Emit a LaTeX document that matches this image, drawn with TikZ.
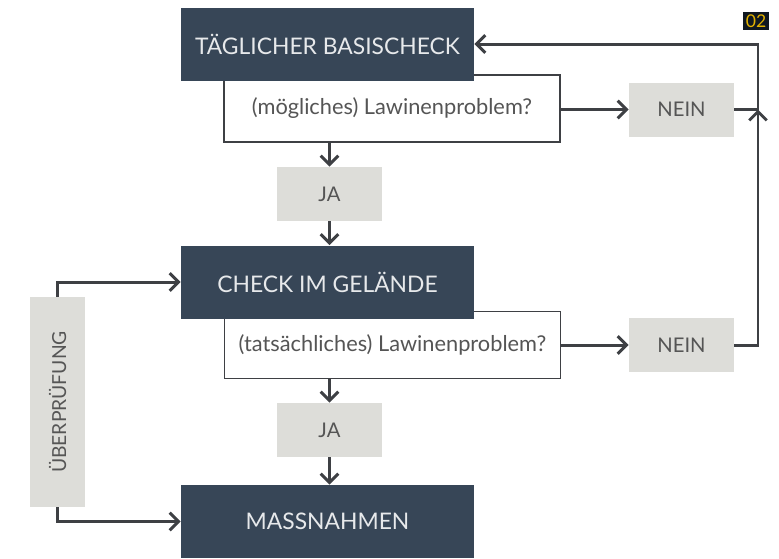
\documentclass[tikz,border=0pt]{standalone}
\usepackage{fontspec}
\setmainfont{Lato}
\usetikzlibrary{positioning, arrows.meta}

\definecolor{slate}{RGB}{55,70,87}
\definecolor{paleg}{RGB}{221,221,217}
\definecolor{linec}{RGB}{62,64,68}
\definecolor{txtg}{RGB}{85,85,85}
\definecolor{badgebg}{RGB}{16,24,32}
\definecolor{badgefg}{RGB}{226,178,0}

\begin{document}
\begin{tikzpicture}[
      font=\fontsize{11.5}{13}\selectfont,
      step box/.style={rectangle, fill=slate, text=white!88!slate,
      minimum width=5.86cm, minimum height=1.46cm, inner sep=0pt,
      font=\fontsize{13}{15}\selectfont},
      ask/.style={rectangle, draw=linec, line width=0.8pt, fill=white,
      text=txtg, minimum width=6.72cm, minimum height=1.34cm, inner sep=0pt,
      font=\fontsize{12.4}{14}\selectfont},
      ans/.style={rectangle, fill=paleg, text=txtg, minimum width=2.1cm,
      minimum height=1.08cm, inner sep=0pt},
      flow/.style={draw=linec, line width=1.7pt,
      -{Straight Barb[length=5pt, width=10pt, line width=1.7pt]}},
      plain/.style={draw=linec, line width=1.7pt}
    ]
    \useasboundingbox (0,0) rectangle (15.58,-11.16);

    % Questions behind the step boxes
    \node[ask] (q1) at (7.84, -2.17) {(mögliches) Lawinenproblem?};
    \node[ask] (q2) at (7.85, -6.90) {(tatsächliches) Lawinenproblem?};

    % Step boxes
    \node[step box] (s1) at (6.55, -0.88) {TÄGLICHER BASISCHECK};
    \node[step box] (s2) at (6.55, -5.64) {CHECK IM GELÄNDE};
    \node[step box] (s3) at (6.55, -10.43) {MASSNAHMEN};

    % Answers
    \node[ans] (ja1) at (6.59, -3.88) {JA};
    \node[ans] (ja2) at (6.59, -8.60) {JA};
    \node[ans] (nein1) at (13.63, -2.19) {NEIN};
    \node[ans] (nein2) at (13.63, -6.90) {NEIN};

    % Review bar
    \node[ans, rotate=90, minimum width=4.2cm, minimum height=1.1cm,
    font=\fontsize{11}{13}\selectfont]
    (check) at (1.15, -8.04) {ÜBERPRÜFUNG};

    % Badge
    \node[fill=badgebg, text=badgefg, minimum width=0.52cm,
    minimum height=0.36cm, inner sep=0pt, font=\fontsize{10}{11}\selectfont]
    (badge) at (15.12, -0.42) {02};

    \coordinate (back) at (15.16, 0);

    % Yes path
    \draw[flow] (ja1 |- q1.south) -- (ja1.north);
    \draw[flow] (ja1.south) -- (ja1 |- s2.north);
    \draw[flow] (ja2 |- q2.south) -- (ja2.north);
    \draw[flow] (ja2.south) -- (ja2 |- s3.north);

    % No path
    \draw[flow] (q1.east |- nein1) -- (nein1.west);
    \draw[flow] (q2.east |- nein2) -- (nein2.west);
    \draw[flow] (nein1.east) -- (back |- nein1) -- (back |- s1) -- (s1.east);
    \draw[flow] (nein2.east) -- (back |- nein2) -- (back |- nein1);

    % Review path
    \draw[flow] (check.east) |- (s2.west);
    \draw[flow] (check.west) |- (s3.west);

  \end{tikzpicture}
\end{document}
